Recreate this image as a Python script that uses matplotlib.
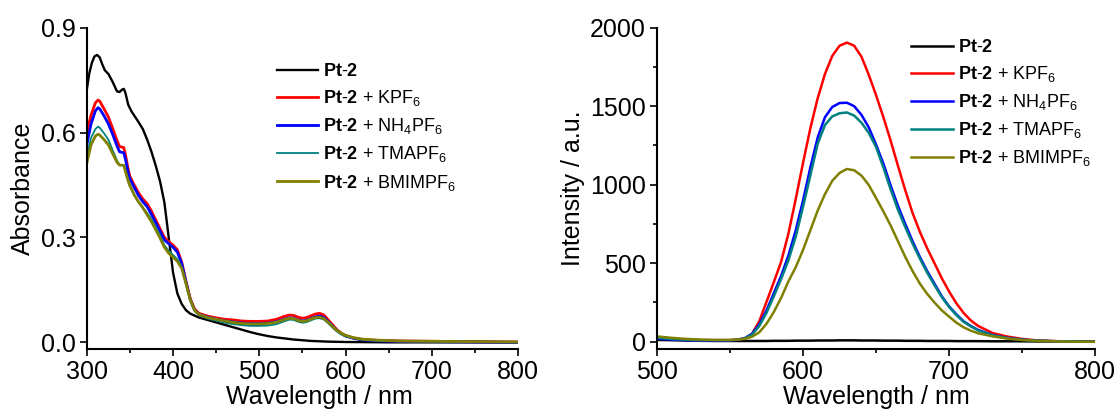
import numpy as np
import matplotlib
matplotlib.use('Agg')
import matplotlib.pyplot as plt
from matplotlib.ticker import MultipleLocator

plt.rcParams['font.family'] = ['Liberation Sans', 'DejaVu Sans']
plt.rcParams['mathtext.fontset'] = 'custom'
plt.rcParams['mathtext.rm'] = 'Liberation Sans'
plt.rcParams['mathtext.bf'] = 'Liberation Sans:bold'
plt.rcParams['mathtext.it'] = 'Liberation Sans:italic'

# rotulos das series
labels = [r'$\mathbf{Pt\text{-}2}$',
          r'$\mathbf{Pt\text{-}2}$ + KPF$_6$',
          r'$\mathbf{Pt\text{-}2}$ + NH$_4$PF$_6$',
          r'$\mathbf{Pt\text{-}2}$ + TMAPF$_6$',
          r'$\mathbf{Pt\text{-}2}$ + BMIMPF$_6$']
colors = ['black', '#ff0000', '#0000ff', '#008080', '#808000']

# absorcao - Pt-2 sozinho
wl_blk = [300, 303, 306, 309, 312, 315, 318, 321, 325, 330, 335, 338, 341, 343, 345,
          348, 352, 356, 360, 365, 370, 375, 380, 385, 390, 395, 400, 405, 410, 415,
          420, 430, 440, 450, 460, 470, 480, 490, 500, 510, 520, 530, 540, 550, 560,
          570, 580, 600, 650, 700, 800]
abs_blk = [0.722, 0.770, 0.800, 0.818, 0.822, 0.815, 0.795, 0.778, 0.768, 0.745,
           0.718, 0.716, 0.723, 0.725, 0.712, 0.680, 0.660, 0.645, 0.630, 0.610,
           0.580, 0.545, 0.505, 0.460, 0.400, 0.300, 0.200, 0.140, 0.110, 0.092,
           0.082, 0.071, 0.064, 0.057, 0.050, 0.043, 0.036, 0.029, 0.023, 0.018,
           0.014, 0.011, 0.008, 0.006, 0.004, 0.003, 0.002, 0.001, 0.0, 0.0, 0.0]

# absorcao - com os sais
wl_abs = [300, 305, 310, 313, 315, 320, 325, 330, 335, 338, 343, 345, 348, 350, 355,
          360, 365, 370, 375, 380, 385, 390, 395, 400, 405, 410, 415, 420, 425, 430,
          440, 450, 460, 470, 480, 490, 500, 510, 520, 530, 535, 540, 545, 550, 555,
          560, 565, 570, 575, 580, 585, 590, 595, 600, 610, 620, 640, 660, 700, 750, 800]
abs_kpf = [0.600, 0.650, 0.685, 0.693, 0.690, 0.668, 0.645, 0.612, 0.578, 0.560,
           0.557, 0.535, 0.495, 0.475, 0.450, 0.428, 0.410, 0.397, 0.375, 0.350,
           0.325, 0.300, 0.288, 0.278, 0.265, 0.230, 0.175, 0.125, 0.095, 0.083,
           0.075, 0.070, 0.066, 0.064, 0.061, 0.060, 0.060, 0.061, 0.066, 0.075,
           0.078, 0.077, 0.072, 0.069, 0.071, 0.076, 0.081, 0.083, 0.078, 0.064,
           0.050, 0.036, 0.026, 0.019, 0.012, 0.008, 0.005, 0.004, 0.003, 0.002, 0.001]
abs_nh4 = [0.565, 0.625, 0.662, 0.671, 0.668, 0.648, 0.625, 0.595, 0.562, 0.545,
           0.542, 0.522, 0.485, 0.468, 0.443, 0.420, 0.402, 0.388, 0.366, 0.342,
           0.318, 0.293, 0.282, 0.272, 0.258, 0.226, 0.172, 0.122, 0.092, 0.080,
           0.072, 0.066, 0.061, 0.058, 0.055, 0.054, 0.054, 0.055, 0.059, 0.067,
           0.070, 0.069, 0.064, 0.061, 0.063, 0.068, 0.073, 0.075, 0.071, 0.059,
           0.046, 0.034, 0.025, 0.018, 0.011, 0.007, 0.004, 0.003, 0.002, 0.001, 0.0]
abs_tma = [0.536, 0.585, 0.610, 0.617, 0.614, 0.598, 0.580, 0.550, 0.520, 0.508,
           0.506, 0.488, 0.460, 0.448, 0.420, 0.400, 0.385, 0.370, 0.352, 0.330,
           0.305, 0.278, 0.262, 0.250, 0.238, 0.215, 0.170, 0.122, 0.090, 0.078,
           0.068, 0.062, 0.056, 0.052, 0.049, 0.047, 0.047, 0.048, 0.052, 0.061,
           0.065, 0.064, 0.059, 0.056, 0.058, 0.063, 0.068, 0.069, 0.065, 0.054,
           0.042, 0.031, 0.023, 0.017, 0.011, 0.007, 0.004, 0.003, 0.002, 0.001, 0.0]
abs_bmim = [0.512, 0.565, 0.590, 0.595, 0.593, 0.580, 0.565, 0.540, 0.515, 0.507,
            0.506, 0.488, 0.462, 0.448, 0.422, 0.402, 0.385, 0.365, 0.345, 0.322,
            0.298, 0.272, 0.255, 0.243, 0.232, 0.212, 0.168, 0.122, 0.092, 0.080,
            0.071, 0.066, 0.061, 0.057, 0.054, 0.053, 0.053, 0.054, 0.058, 0.066,
            0.069, 0.068, 0.063, 0.060, 0.062, 0.067, 0.071, 0.072, 0.068, 0.057,
            0.045, 0.034, 0.026, 0.020, 0.013, 0.009, 0.006, 0.004, 0.003, 0.002, 0.001]

# emissao
wl_em = [500, 510, 520, 530, 540, 550, 555, 560, 565, 570, 575, 580, 585, 590, 595,
         600, 605, 610, 615, 620, 625, 630, 635, 640, 645, 650, 655, 660, 665, 670,
         675, 680, 685, 690, 695, 700, 705, 710, 715, 720, 730, 740, 750, 760, 770,
         780, 790, 800]
em_blk = [12, 10, 8, 6, 5, 5, 5, 5, 5, 5, 5, 6, 6, 6, 7, 7, 7, 8, 8, 8, 9, 9, 9, 8,
          8, 8, 7, 7, 7, 6, 6, 6, 5, 5, 5, 5, 4, 4, 4, 4, 3, 3, 3, 2, 2, 2, 2, 2]
em_kpf = [25, 18, 12, 10, 9, 10, 14, 22, 50, 130, 255, 380, 510, 690, 910, 1140,
          1360, 1550, 1705, 1820, 1885, 1905, 1885, 1815, 1700, 1570, 1430, 1280, 1120,
          965, 820, 700, 595, 500, 405, 320, 245, 183, 135, 100, 55, 33, 18, 9, 5, 2, 1, 0]
em_nh4 = [20, 14, 10, 8, 8, 9, 12, 22, 50, 110, 200, 310, 420, 550, 710, 900,
          1110, 1300, 1430, 1495, 1520, 1522, 1500, 1445, 1365, 1255, 1135, 995, 865,
          750, 640, 540, 450, 370, 290, 225, 175, 130, 100, 75, 42, 24, 13, 7, 4, 2, 1, 0]
em_tma = [25, 18, 13, 10, 10, 10, 13, 22, 45, 100, 185, 290, 400, 520, 670, 860,
          1060, 1260, 1380, 1435, 1455, 1460, 1440, 1395, 1330, 1240, 1110, 970, 840,
          730, 625, 530, 440, 360, 285, 222, 170, 127, 97, 72, 41, 23, 13, 7, 4, 2, 1, 0]
em_bmim = [34, 25, 18, 14, 12, 12, 14, 18, 32, 60, 115, 190, 280, 385, 475, 585,
           710, 835, 940, 1025, 1075, 1100, 1092, 1058, 998, 915, 830, 740, 640,
           540, 450, 370, 305, 250, 200, 160, 122, 92, 70, 54, 34, 20, 11, 6, 3, 1, 0, 0]

fig = plt.figure(figsize=(11.18, 4.13), dpi=100)
ax1 = fig.add_axes([0.0776, 0.155, 0.3858, 0.778])
ax2 = fig.add_axes([0.5877, 0.155, 0.3918, 0.778])

# painel esquerdo - absorcao
ax1.plot(wl_blk, abs_blk, color=colors[0], lw=1.7, label=labels[0])
ax1.plot(wl_abs, abs_kpf, color=colors[1], lw=2.0, label=labels[1])
ax1.plot(wl_abs, abs_nh4, color=colors[2], lw=2.0, label=labels[2])
ax1.plot(wl_abs, abs_tma, color=colors[3], lw=1.3, label=labels[3])
ax1.plot(wl_abs, abs_bmim, color=colors[4], lw=2.0, label=labels[4])
ax1.set_xlim(300, 800)
ax1.set_ylim(-0.019, 0.9)
ax1.xaxis.set_major_locator(MultipleLocator(100))
ax1.xaxis.set_minor_locator(MultipleLocator(50))
ax1.yaxis.set_major_locator(MultipleLocator(0.3))
ax1.set_ylabel('Absorbance', fontsize=18, labelpad=4)
ax1.set_xlabel('Wavelength / nm', fontsize=18, labelpad=0)
ax1.xaxis.set_label_coords(0.54, -0.112)
ax1.legend(loc='upper left', bbox_to_anchor=(0.44, 0.89), frameon=False,
           fontsize=13, handlelength=2.3, handletextpad=0.3, labelspacing=0.45,
           borderpad=0, borderaxespad=0)

# painel direito - emissao
ax2.plot(wl_em, em_blk, color=colors[0], lw=1.8, label=labels[0])
ax2.plot(wl_em, em_kpf, color=colors[1], lw=1.8, label=labels[1])
ax2.plot(wl_em, em_nh4, color=colors[2], lw=1.8, label=labels[2])
ax2.plot(wl_em, em_tma, color=colors[3], lw=1.8, label=labels[3])
ax2.plot(wl_em, em_bmim, color=colors[4], lw=1.8, label=labels[4])
ax2.set_xlim(500, 800)
ax2.set_ylim(-46, 2000)
ax2.xaxis.set_major_locator(MultipleLocator(100))
ax2.xaxis.set_minor_locator(MultipleLocator(50))
ax2.yaxis.set_major_locator(MultipleLocator(500))
ax2.yaxis.set_minor_locator(MultipleLocator(250))
ax2.set_ylabel('Intensity / a.u.', fontsize=18, labelpad=4)
ax2.set_xlabel('Wavelength / nm', fontsize=18, labelpad=0)
ax2.xaxis.set_label_coords(0.5, -0.112)
ax2.legend(loc='upper left', bbox_to_anchor=(0.58, 0.965), frameon=False,
           fontsize=13, handlelength=2.3, handletextpad=0.3, labelspacing=0.45,
           borderpad=0, borderaxespad=0)

for ax in (ax1, ax2):
    ax.spines['top'].set_visible(False)
    ax.spines['right'].set_visible(False)
    ax.spines['left'].set_linewidth(1.5)
    ax.spines['bottom'].set_linewidth(1.5)
    ax.tick_params(which='major', direction='out', length=5, width=1.2,
                   labelsize=18, pad=3)
    ax.tick_params(which='minor', direction='out', length=3, width=1.2)

plt.savefig('out.png', dpi=100)
